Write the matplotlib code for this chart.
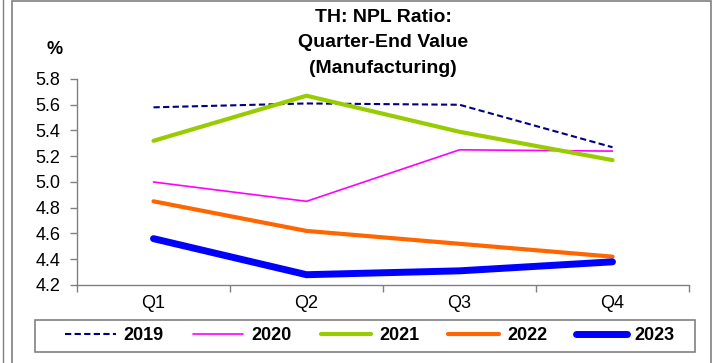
import matplotlib
matplotlib.use("Agg")
import matplotlib.pyplot as plt
from matplotlib.lines import Line2D
from matplotlib.patches import Rectangle

plt.rcParams['font.family'] = ['Liberation Sans', 'DejaVu Sans']

quarters = ['Q1', 'Q2', 'Q3', 'Q4']
v2019 = [5.58, 5.61, 5.60, 5.27]
v2020 = [5.00, 4.85, 5.25, 5.24]
v2021 = [5.32, 5.67, 5.39, 5.17]
v2022 = [4.85, 4.62, 4.52, 4.42]
v2023 = [4.56, 4.28, 4.31, 4.38]
yticks = [4.2, 4.4, 4.6, 4.8, 5.0, 5.2, 5.4, 5.6, 5.8]

W, H = 712, 363
fig = plt.figure(figsize=(W / 100, H / 100), dpi=100)
ax = fig.add_axes([77 / W, 1 - 285 / H, (689 - 77) / W, (285 - 79) / H])

x = range(len(quarters))
ax.plot(x, v2019, color='#000080', lw=1.5, ls=(0, (3, 1.6)), label='2019')
ax.plot(x, v2020, color='#FF00FF', lw=1.2, label='2020', solid_capstyle='round')
ax.plot(x, v2021, color='#99CC00', lw=3, label='2021', solid_capstyle='round')
ax.plot(x, v2022, color='#FF6600', lw=3, label='2022', solid_capstyle='round')
ax.plot(x, v2023, color='#0000FF', lw=5, label='2023', solid_capstyle='round')

ax.set_xlim(-0.5, 3.5)
ax.set_ylim(4.2, 5.8)
ax.set_yticks(yticks)
ax.set_yticklabels(['%.1f' % v for v in yticks], fontsize=13)
ax.set_xticks(list(x))
ax.set_xticklabels(quarters, fontsize=13)
ax.set_xticks([-0.5, 0.5, 1.5, 2.5, 3.5], minor=True)
ax.tick_params(axis='x', which='major', length=0, pad=7)
ax.tick_params(axis='x', which='minor', length=5, color='#808080', width=1)
ax.tick_params(axis='y', length=5, color='#808080', width=1, pad=7)
for s in ['top', 'right']:
    ax.spines[s].set_visible(False)
for s in ['left', 'bottom']:
    ax.spines[s].set_color('#808080')
    ax.spines[s].set_linewidth(1)

fig.text(383 / W, 1 - 9 / H, 'TH: NPL Ratio:\nQuarter-End Value\n(Manufacturing)',
         ha='center', va='top', fontsize=14, fontweight='bold', linespacing=1.65)
fig.text(55 / W, 1 - 50 / H, '%', ha='center', va='center', fontsize=13, fontweight='bold')

leg = fig.legend(loc='center', ncol=5, bbox_to_anchor=(370 / W, 1 - 336 / H),
                 prop={'weight': 'bold', 'size': 13}, handlelength=2.8,
                 handletextpad=0.45, columnspacing=1.6, frameon=False, borderaxespad=0)
fig.add_artist(Rectangle((35 / W, 1 - 352 / H), 660 / W, 32 / H, transform=fig.transFigure,
                         fill=False, edgecolor='#808080', lw=1.2))

# outer frames
fig.add_artist(Rectangle((12 / W, -0.1), (711 - 12) / W, 1.1 - 1 / H, transform=fig.transFigure,
                         fill=False, edgecolor='#808080', lw=1.2))
fig.add_artist(Line2D([2.5 / W, 2.5 / W], [0, 1], transform=fig.transFigure, color='#808080', lw=1))

fig.savefig('out.png', dpi=100)
